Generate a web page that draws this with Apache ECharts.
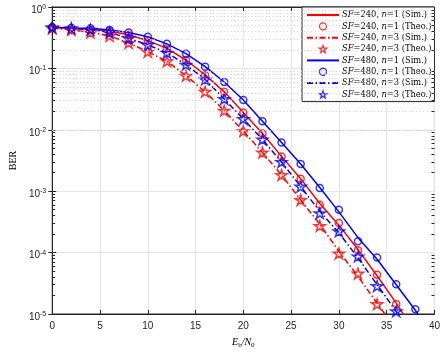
<!DOCTYPE html>
<html>
<head>
<meta charset="utf-8">
<script src="https://cdn.jsdelivr.net/npm/echarts@6/dist/echarts.min.js"></script>
<style>html,body{margin:0;padding:0;background:#fff}#c{width:443px;height:354px}</style>
</head>
<body>
<div id="c"></div>
<script>
// Eb/N0 (dB) for markers
const ebn0 = [0,2,4,6,8,10,12,14,16,18,20,22,24,26,28,30,32,34,36,38];
const ebn0Sim = [0,2,4,6,8,10,12,14,16,18,20,22,24,26,28,30,32,34,36,38,40];

// SF=240, n=1
const sf240n1Theo = [0.468,0.451,0.435,0.404,0.353,0.283,0.212,0.137,0.0783,0.0415,0.0192,8.67e-3,3.69e-3,1.60e-3,6.00e-4,3.04e-4,1.09e-4,4.35e-5,1.46e-5];
const sf240n1Sim  = [0.468,0.451,0.435,0.404,0.353,0.283,0.212,0.137,0.0783,0.0415,0.0192,8.67e-3,3.69e-3,1.60e-3,6.3e-4,2.8e-4,1.12e-4,4.2e-5,1.5e-5,5.0e-6];
// SF=240, n=3
const sf240n3Theo = [0.451,0.424,0.385,0.340,0.260,0.187,0.131,0.0761,0.0418,0.0205,9.50e-3,4.27e-3,1.84e-3,7.20e-4,2.72e-4,9.68e-5,4.56e-5,1.45e-5];
const sf240n3Sim  = [0.451,0.424,0.385,0.340,0.260,0.187,0.131,0.0761,0.0418,0.0205,9.50e-3,4.27e-3,1.84e-3,7.20e-4,2.9e-4,1.05e-4,4.1e-5,1.5e-5,5.5e-6];
// SF=480, n=1
const sf480n1Theo = [0.468,0.456,0.451,0.424,0.385,0.328,0.251,0.174,0.1067,0.0600,0.0306,0.0138,6.23e-3,2.78e-3,1.127e-3,4.99e-4,1.53e-4,8.32e-5,3.04e-5,1.20e-5];
const sf480n1Sim  = [0.468,0.456,0.451,0.424,0.385,0.328,0.251,0.174,0.1067,0.0600,0.0306,0.0138,6.23e-3,2.78e-3,1.15e-3,4.6e-4,1.75e-4,7.8e-5,3.0e-5,1.15e-5,3.8e-6];
// SF=480, n=3
const sf480n3Theo = [0.468,0.451,0.427,0.385,0.309,0.242,0.180,0.115,0.0662,0.0318,0.0150,6.95e-3,2.99e-3,1.19e-3,4.39e-4,2.22e-4,8.67e-5,2.85e-5,1.11e-5];
const sf480n3Sim  = [0.468,0.451,0.427,0.385,0.309,0.242,0.180,0.115,0.0662,0.0318,0.0150,6.95e-3,2.99e-3,1.19e-3,4.7e-4,2.1e-4,8.2e-5,3.0e-5,1.1e-5,4.0e-6];

const xTicks = [0,5,10,15,20,25,30,35,40];
const decades = [1e-5,1e-4,1e-3,1e-2,1e-1];
const minorMult = [2,3,4,5,6,7,8,9];

const RED = '#ff0000', BLUE = '#0000ff';
const DASHDOT = [6,2.5,1.5,2.5];
const STAR = 'path://M0,-100 L22.45,-30.9 L95.1,-30.9 L36.3,11.8 L58.8,80.9 L0,38.2 L-58.8,80.9 L-36.3,11.8 L-95.1,-30.9 L-22.45,-30.9 Z';

function pairs(xs, ys){ return ys.map((v,i)=>[xs[i], v]); }

const minorVals = [];
decades.forEach(d => minorMult.forEach(k => minorVals.push(k*d)));
const minorGrid = minorVals.map(v => ({yAxis: v}));
const minorTickL = minorVals.map(v => [{coord:[0, v]}, {coord:[0.3, v]}]);
const minorTickR = minorVals.map(v => [{coord:[39.7, v]}, {coord:[40, v]}]);

function lbl(sf, n, kind){
  return '{i|SF}=' + sf + ', {i|n}=' + n + ' (' + kind + ')';
}

const names = ['a1','a2','a3','a4','b1','b2','b3','b4'];
const isSim = {a1:true,a3:true,b1:true,b3:true};
const nameText = {
  a1: lbl(240,1,'Sim.'), a2: lbl(240,1,'Theo.'), a3: lbl(240,3,'Sim.'), a4: lbl(240,3,'Theo.'),
  b1: lbl(480,1,'Sim.'), b2: lbl(480,1,'Theo.'), b3: lbl(480,3,'Sim.'), b4: lbl(480,3,'Theo.')
};

function simSeries(name, data, color, dash){
  return {
    name, type:'line', data: pairs(ebn0Sim, data), showSymbol:false, symbol:'none',
    lineStyle:{color, width:1.5, type: dash ? DASHDOT : 'solid'}, itemStyle:{color},
    clip:true, z:3, animation:false
  };
}
function theoSeries(name, data, color, star){
  return {
    name, type:'scatter', data: pairs(ebn0, data),
    symbol: star ? STAR : 'circle', symbolSize: star ? 11 : 7, symbolKeepAspect:true,
    itemStyle:{color:'rgba(255,255,255,0)', borderColor: color, borderWidth: 1.5},
    clip:true, z:4, animation:false
  };
}

const series = [
  Object.assign(simSeries('a1', sf240n1Sim, RED, false), {
    markLine: {
      silent:true, symbol:['none','none'], label:{show:false}, animation:false,
      lineStyle:{type:[1,2.5], color:'#d0d0d0', width:1},
      data: minorGrid
    }
  }),
  theoSeries('a2', sf240n1Theo, RED, false),
  simSeries('a3', sf240n3Sim, RED, true),
  theoSeries('a4', sf240n3Theo, RED, true),
  Object.assign(simSeries('b1', sf480n1Sim, BLUE, false), {
    markLine: {
      silent:true, symbol:['none','none'], label:{show:false}, animation:false,
      lineStyle:{type:'solid', color:'#262626', width:1},
      data: minorTickL.concat(minorTickR)
    }
  }),
  theoSeries('b2', sf480n1Theo, BLUE, false),
  simSeries('b3', sf480n3Sim, BLUE, true),
  theoSeries('b4', sf480n3Theo, BLUE, true)
];

const supFmt = v => {
  const e = Math.round(Math.log10(v));
  return '{b|10}{s|' + e + '}';
};

const legendData = names.map(n => isSim[n]
  ? {name:n, itemStyle:{color:'rgba(0,0,0,0)', borderWidth:0, opacity:0}}
  : {name:n, itemStyle:{borderWidth:1.3}});

const chart = echarts.init(document.getElementById('c'), null, {renderer:'canvas'});
chart.setOption({
  animation:false,
  backgroundColor:'#fff',
  grid:{left:40.5, right:8, top:7, bottom:33, show:true, borderColor:'#262626', borderWidth:1, backgroundColor:'#fff'},
  legend:{
    data: legendData, orient:'vertical', left:302, top:7,
    itemWidth:32, itemHeight:7, itemGap:3.2,
    padding:[4,3,3,4],
    backgroundColor:'#fff', borderColor:'#262626', borderWidth:1, borderRadius:0,
    formatter: n => nameText[n],
    textStyle:{fontFamily:'DejaVu Serif', fontSize:8.3, lineHeight:8, color:'#000', padding:[0,0,0,-2],
      rich:{i:{fontFamily:'DejaVu Serif', fontStyle:'italic', fontSize:8.3, lineHeight:8, color:'#000'}}}
  },
  xAxis:[{
    type:'value', min:0, max:40, interval:5,
    axisLine:{show:true, onZero:false, lineStyle:{color:'#262626', width:1}},
    axisTick:{show:true, inside:true, length:4, lineStyle:{color:'#262626'}},
    axisLabel:{color:'#262626', fontFamily:'Liberation Sans', fontSize:10, margin:7},
    splitLine:{show:true, lineStyle:{color:'#e6e6e6', width:1}},
    name:'{i|E}{s|b}{i|/N}{s|0}', nameLocation:'middle', nameGap:22,
    nameTextStyle:{rich:{
      i:{fontFamily:'Liberation Serif', fontStyle:'italic', fontSize:10, color:'#000'},
      s:{fontFamily:'Liberation Serif', fontSize:7, color:'#000', verticalAlign:'bottom', padding:[6,0,0,0]}
    }}
  },{
    type:'value', position:'top', min:0, max:40, interval:5,
    axisLine:{show:true, lineStyle:{color:'#262626'}},
    axisTick:{show:true, inside:true, length:4, lineStyle:{color:'#262626'}},
    axisLabel:{show:false}, splitLine:{show:false}
  }],
  yAxis:[{
    type:'log', logBase:10, min:1e-5, max:1,
    axisLine:{show:true, onZero:false, lineStyle:{color:'#262626', width:1}},
    axisTick:{show:true, inside:true, length:4, lineStyle:{color:'#262626'}},
    axisLabel:{formatter: supFmt, margin:6, verticalAlign:'middle', rich:{
      b:{fontFamily:'Liberation Sans', fontSize:10, color:'#262626', padding:[6,0,0,0]},
      s:{fontFamily:'Liberation Sans', fontSize:7, color:'#262626', padding:[0,0,0,0]}
    }},
    splitLine:{show:true, lineStyle:{color:'#e6e6e6', width:1}},
    name:'BER', nameLocation:'middle', nameGap:28, nameRotate:90,
    nameTextStyle:{fontFamily:'Liberation Serif', fontSize:10, color:'#000'}
  },{
    type:'log', logBase:10, min:1e-5, max:1, position:'right',
    axisLine:{show:true, lineStyle:{color:'#262626'}},
    axisTick:{show:true, inside:true, length:4, lineStyle:{color:'#262626'}},
    axisLabel:{show:false}, splitLine:{show:false}
  }],
  series: series
});
</script>
</body>
</html>
